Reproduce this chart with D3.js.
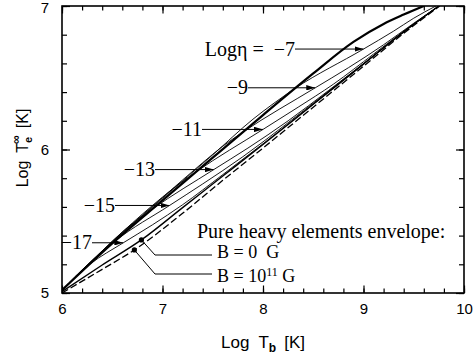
<!DOCTYPE html>
<html><head><meta charset="utf-8">
<script src="https://cdn.jsdelivr.net/npm/d3@7"></script>
<style>body{margin:0;background:#fff;} svg{display:block;}</style>
</head><body>
<svg id="c" width="473" height="358"></svg>
<script>
// ---- data ----
const xTicks = [6, 7, 8, 9, 10];
const yTicks = [5, 6, 7];
const accreted = [[6.0,5.02],[6.5,5.345],[7.0,5.645],[7.5,5.943],[8.0,6.24],[8.5,6.53],[8.9,6.75],[9.2,6.875],[9.4,6.94],[9.6,7.0]];
const ironB0 = [[6.0,5.01],[6.4,5.195],[6.8,5.375],[7.2,5.595],[7.6,5.815],[8.0,6.035],[8.5,6.315],[9.0,6.595],[9.4,6.82],[9.75,7.0]];
const ironB11 = [[6.0,5.0],[6.4,5.165],[6.72,5.30],[7.2,5.555],[7.6,5.785],[8.0,6.01],[8.5,6.295],[9.0,6.58],[9.4,6.81],[9.76,7.0]];
const eta17 = [[6.0,5.02],[6.14,5.12],[6.28,5.202],[6.61,5.35],[6.9,5.475],[7.2,5.615],[7.6,5.825],[8.0,6.04],[8.5,6.315],[9.0,6.595],[9.4,6.82],[9.75,7.0]];
const eta15 = [[6.0,5.02],[6.25,5.195],[6.53,5.363],[7.07,5.61],[7.4,5.76],[7.8,5.95],[8.2,6.16],[8.6,6.377],[9.0,6.597],[9.4,6.82],[9.75,7.0]];
const eta13 = [[6.0,5.02],[6.35,5.26],[6.65,5.455],[6.9,5.585],[7.51,5.86],[7.85,6.01],[8.25,6.2],[8.65,6.41],[9.05,6.627],[9.4,6.82],[9.75,7.0]];
const eta11 = [[6.0,5.02],[6.5,5.36],[6.9,5.61],[7.1,5.725],[7.33,5.842],[8.0,6.14],[8.35,6.295],[8.7,6.455],[9.1,6.665],[9.45,6.85],[9.75,7.0]];
const eta9 = [[6.0,5.02],[6.5,5.355],[7.0,5.665],[7.4,5.908],[7.6,6.023],[7.8,6.121],[8.52,6.43],[8.85,6.57],[9.2,6.73],[9.5,6.88],[9.75,7.0]];
const eta7 = [[6.0,5.02],[6.5,5.352],[7.0,5.66],[7.5,5.963],[7.9,6.211],[8.1,6.318],[8.32,6.426],[9.0,6.70],[9.3,6.825],[9.5,6.915],[9.72,7.0]];
const etaLabels = ["−7","−9","−11","−13","−15","−17"];
const etaTips = [[9.0,6.70],[8.52,6.43],[8.0,6.14],[7.51,5.86],[7.07,5.61],[6.61,5.35]];
const dotB0 = [6.79,5.37];
const dotB11 = [6.72,5.30];

// ---- drawing ----
const svg = d3.select("#c");
const x = d3.scaleLinear().domain([6,10]).range([62,464]);
const y = d3.scaleLinear().domain([5,7]).range([293,6]);
const line = d3.line().x(d=>x(d[0])).y(d=>y(d[1])).curve(d3.curveMonotoneX);

const defs = svg.append("defs");
defs.append("marker").attr("id","ah").attr("viewBox","0 0 10 6").attr("refX",10).attr("refY",3)
  .attr("markerWidth",9).attr("markerHeight",5.4).attr("markerUnits","userSpaceOnUse").attr("orient","auto")
  .append("path").attr("d","M0,0L10,3L0,6Z").attr("fill","#000");
defs.append("clipPath").attr("id","pc").append("rect").attr("x",62).attr("y",6).attr("width",402).attr("height",287);

const g = svg.append("g").attr("clip-path","url(#pc)");
[eta17,eta15,eta13,eta11,eta9,eta7].forEach(s=>{
  g.append("path").attr("d",line(s)).attr("fill","none").attr("stroke","#000").attr("stroke-width",0.9);
});
g.append("path").attr("d",line(ironB11)).attr("fill","none").attr("stroke","#000").attr("stroke-width",1.3).attr("stroke-dasharray","7,3");
g.append("path").attr("d",line(ironB0)).attr("fill","none").attr("stroke","#000").attr("stroke-width",1.4);
g.append("path").attr("d",line(accreted)).attr("fill","none").attr("stroke","#000").attr("stroke-width",2.2);

// axes
const tickFont = "15px 'Liberation Sans', Arial, sans-serif";
function styleAxis(sel){ sel.select(".domain").remove(); sel.selectAll("line").attr("stroke","#000").attr("stroke-width",1.2); sel.selectAll("text").style("font",tickFont).attr("fill","#000"); }
const minorX = d3.range(6,10.001,0.2), minorY = d3.range(5,7.001,0.2);
svg.append("g").attr("transform","translate(0,293)").call(d3.axisBottom(x).tickValues(minorX).tickSize(-4.5).tickFormat("")).call(styleAxis);
svg.append("g").attr("transform","translate(0,6)").call(d3.axisTop(x).tickValues(minorX).tickSize(-4.5).tickFormat("")).call(styleAxis);
svg.append("g").attr("transform","translate(62,0)").call(d3.axisLeft(y).tickValues(minorY).tickSize(-5).tickFormat("")).call(styleAxis);
svg.append("g").attr("transform","translate(464,0)").call(d3.axisRight(y).tickValues(minorY).tickSize(-5).tickFormat("")).call(styleAxis);
svg.append("g").attr("transform","translate(0,293)").call(d3.axisBottom(x).tickValues(xTicks).tickSize(-7.5).tickPadding(10).tickFormat(d3.format("d"))).call(styleAxis);
svg.append("g").attr("transform","translate(0,6)").call(d3.axisTop(x).tickValues(xTicks).tickSize(-7.5).tickFormat("")).call(styleAxis);
const yax = svg.append("g").attr("transform","translate(62,0)").call(d3.axisLeft(y).tickValues(yTicks).tickSize(-8).tickPadding(13).tickFormat(d3.format("d"))).call(styleAxis);
yax.selectAll("text").filter(d=>d===7).attr("dy","0.42em");
svg.append("g").attr("transform","translate(464,0)").call(d3.axisRight(y).tickValues(yTicks).tickSize(-8).tickFormat("")).call(styleAxis);
svg.append("rect").attr("x",62).attr("y",6).attr("width",402).attr("height",287).attr("fill","none").attr("stroke","#000").attr("stroke-width",1.6);

// axis titles
const sans = "'Liberation Sans', Arial, sans-serif";
const xt = svg.append("text").attr("x",263).attr("y",348).attr("text-anchor","middle").style("font-family",sans).style("font-size","17px");
xt.append("tspan").text("Log");
xt.append("tspan").attr("dx",9).text("T");
xt.append("tspan").attr("dy",4).style("font-size","12px").style("font-weight","bold").text("b");
xt.append("tspan").attr("dy",-4).attr("dx",8).text("[K]");

const yt = svg.append("text").attr("transform","translate(28,148) rotate(-90)").attr("text-anchor","middle").style("font-family",sans).style("font-size","16px");
yt.append("tspan").text("Log");
yt.append("tspan").attr("dx",8).text("T");
yt.append("tspan").attr("dy",4).style("font-size","11px").style("font-weight","bold").text("e");
yt.append("tspan").attr("dy",-12).attr("dx",-7).style("font-size","12px").style("font-weight","bold").text("∞");
yt.append("tspan").attr("dy",8).attr("dx",7).text("[K]");

// eta labels with arrows
const serif = "'Liberation Serif', 'Times New Roman', serif";
const arrowStarts = [295,248,202,155,115,92];
etaTips.forEach((t,i)=>{
  const ty = y(t[1]);
  svg.append("line").attr("x1",arrowStarts[i]).attr("y1",ty).attr("x2",x(t[0])).attr("y2",ty)
    .attr("stroke","#000").attr("stroke-width",1).attr("marker-end","url(#ah)");
  const tx = svg.append("text").attr("x",arrowStarts[i]).attr("y",ty+6.5).attr("text-anchor","end")
    .attr("xml:space","preserve").style("font-family",serif).style("font-size","20px");
  if(i===0){ tx.append("tspan").text("Logη =  "); }
  tx.append("tspan").text(etaLabels[i]);
});

// pure heavy elements legend
svg.append("text").attr("x",197).attr("y",238).style("font-family",serif).style("font-size","20px").text("Pure heavy elements envelope:");
svg.append("text").attr("x",217).attr("y",258).style("font-family",serif).style("font-size","18px").attr("xml:space","preserve").text("B = 0  G");
const b11 = svg.append("text").attr("x",217).attr("y",281.5).style("font-family",serif).style("font-size","18px").attr("xml:space","preserve");
b11.append("tspan").text("B = 10");
b11.append("tspan").attr("dy",-6).style("font-size","12px").text("11");
b11.append("tspan").attr("dy",6).text(" G");

const p0 = [x(dotB0[0]),y(dotB0[1])], p1 = [x(dotB11[0]),y(dotB11[1])];
svg.append("path").attr("d",`M${p0[0]},${p0[1]}L155,255L212,255`).attr("fill","none").attr("stroke","#000").attr("stroke-width",1);
svg.append("path").attr("d",`M${p1[0]},${p1[1]}L155,274L212,274`).attr("fill","none").attr("stroke","#000").attr("stroke-width",1);
svg.append("circle").attr("cx",p0[0]).attr("cy",p0[1]).attr("r",2.6).attr("fill","#000");
svg.append("circle").attr("cx",p1[0]).attr("cy",p1[1]).attr("r",2.6).attr("fill","#000");
</script>
</body></html>
